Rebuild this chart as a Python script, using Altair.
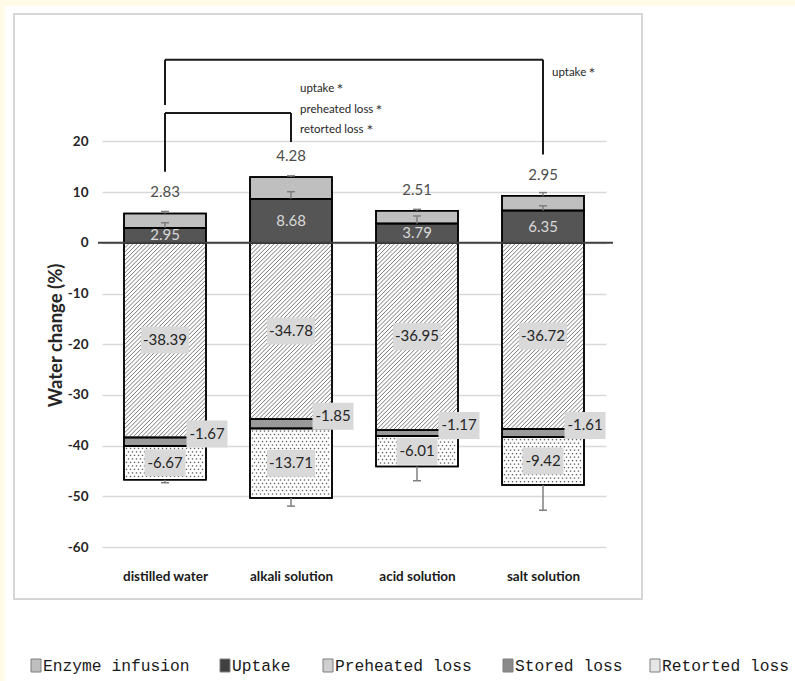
import altair as alt
import pandas as pd

# ---- values ---------------------------------------------------------------
categories = ["distilled water", "alkali solution", "acid solution", "salt solution"]
uptake = [2.95, 8.68, 3.79, 6.35]
enzyme_infusion = [2.83, 4.28, 2.51, 2.95]
preheated_loss = [-38.39, -34.78, -36.95, -36.72]
stored_loss = [-1.67, -1.85, -1.17, -1.61]
retorted_loss = [-6.67, -13.71, -6.01, -9.42]
uptake_err = [1.0, 1.4, 1.5, 0.95]
enzyme_err = [0.4, 0.25, 0.3, 0.6]
loss_err = [0.6, 1.6, 2.8, 5.0]
y_ticks = [-60, -50, -40, -30, -20, -10, 0, 10, 20]
series_names = ["Enzyme infusion", "Uptake", "Preheated loss", "Stored loss", "Retorted loss"]

# significance brackets: (from bar, to bar, level, left leg end, right leg end)
brackets = [(0, 3, 36.1, 27.2, 17.4), (0, 1, 25.6, 14.0, 19.9)]
bracket_notes = [
    (3, 33.5, "uptake\uff0a"),
    (1, 30.3, "uptake\uff0a"),
    (1, 26.2, "preheated loss\uff0a"),
    (1, 22.3, "retorted loss\uff0a"),
]

# ---- geometry --------------------------------------------------------------
W, H = 504, 507
PAD_L, PAD_T = 102, 40
X_DOMAIN = [-0.5, 3.5]
Y_DOMAIN = [-60, 40]
PX_X = W / (X_DOMAIN[1] - X_DOMAIN[0])
PX_Y = H / (Y_DOMAIN[1] - Y_DOMAIN[0])
BAR_PX = 82
HALF = BAR_PX / 2 / PX_X
CAP = 4 / PX_X

FONT = "Lato"
fills = {
    "Enzyme infusion": "#bfbfbf",
    "Uptake": "#555555",
    "Preheated loss": "#ffffff",
    "Stored loss": "#9a9a9a",
    "Retorted loss": "#ffffff",
}

x_labels = "[" + ",".join(f"'{c}'" for c in categories) + "][datum.value]"
X_AXIS = alt.Axis(
    values=[0, 1, 2, 3], labelExpr=x_labels, title=None, grid=False, domain=False,
    ticks=False, labelPadding=22, labelFont=FONT, labelFontSize=13.5,
    labelFontWeight="bold", labelColor="#1a1a1a",
)
Y_AXIS = alt.Axis(
    values=y_ticks, labelExpr="datum.value + ''", title="Water change (%)", grid=True,
    gridColor="#d9d9d9", gridWidth=1.5, domain=False, ticks=False, labelPadding=14,
    labelFont=FONT, labelFontSize=13.5, labelFontWeight="bold", labelColor="#262626",
    titleFont=FONT, titleFontSize=18.5, titleFontWeight="bold", titleColor="#262626",
    titleAngle=-90, titleX=-47, titleY=295, titleAlign="center", titleBaseline="middle",
)


def X(field="x"):
    return alt.X(f"{field}:Q", scale=alt.Scale(domain=X_DOMAIN, nice=False, zero=False), axis=X_AXIS)


def Y(field="y"):
    return alt.Y(f"{field}:Q", scale=alt.Scale(domain=Y_DOMAIN, nice=False, zero=False), axis=Y_AXIS)


# ---- stacked segments -------------------------------------------------------
seg_rows = []
for i in range(len(categories)):
    u, e = uptake[i], enzyme_infusion[i]
    p, s, r = preheated_loss[i], stored_loss[i], retorted_loss[i]
    for name, a, b in [
        ("Uptake", 0, u),
        ("Enzyme infusion", u, u + e),
        ("Preheated loss", 0, p),
        ("Stored loss", p, p + s),
        ("Retorted loss", p + s, p + s + r),
    ]:
        seg_rows.append(dict(i=i, x=i - HALF, x2=i + HALF, y=a, y2=b, series=name, fill=fills[name]))
seg = pd.DataFrame(seg_rows)

bars = alt.Chart(seg).mark_rect(stroke="black", strokeWidth=1.5).encode(
    x=X(), x2="x2:Q", y=Y(), y2="y2:Q", fill=alt.Fill("fill:N", scale=None)
)

# diagonal hatching for the preheated-loss segments
hatch_rows = []
step = 4.2
for i, p in enumerate(preheated_loss):
    xl, yb = i - HALF, p
    wp, hp = BAR_PX, -p * PX_Y
    c = -wp + step / 2
    while c < hp:
        xa, xb = max(0.0, -c), min(wp, hp - c)
        if xb > xa:
            hatch_rows.append(dict(x=xl + xa / PX_X, y=yb + (xa + c) / PX_Y,
                                   x2=xl + xb / PX_X, y2=yb + (xb + c) / PX_Y))
        c += step
hatch = alt.Chart(pd.DataFrame(hatch_rows)).mark_rule(color="#6a6a6a", strokeWidth=0.9).encode(
    x=X(), y=Y(), x2="x2:Q", y2="y2:Q"
)

# stipple for the retorted-loss segments
dot_rows = []
for i in range(len(categories)):
    top = preheated_loss[i] + stored_loss[i]
    hp = -retorted_loss[i] * PX_Y
    row = 0
    yy = 2.5
    while yy < hp - 2:
        xx = 2.5 + (2 if row % 2 else 0)
        while xx < BAR_PX - 2:
            dot_rows.append(dict(x=i - HALF + xx / PX_X, y=top - yy / PX_Y))
            xx += 4
        yy += 3.5
        row += 1
dots = alt.Chart(pd.DataFrame(dot_rows)).mark_square(size=1.8, color="#4d4d4d", opacity=0.9).encode(
    x=X(), y=Y()
)

outline = alt.Chart(seg).mark_rect(fillOpacity=0, stroke="black", strokeWidth=1.5).encode(
    x=X(), x2="x2:Q", y=Y(), y2="y2:Q"
)

# ---- error bars ---------------------------------------------------------------
err_rows = []
for i in range(len(categories)):
    u, e = uptake[i], enzyme_infusion[i]
    neg = preheated_loss[i] + stored_loss[i] + retorted_loss[i]
    for base, end in [(u, u + uptake_err[i]), (u + e, u + e + enzyme_err[i]), (neg, neg - loss_err[i])]:
        err_rows.append(dict(x=i, x2=i, y=base, y2=end))
        err_rows.append(dict(x=i - CAP, x2=i + CAP, y=end, y2=end))
errs = alt.Chart(pd.DataFrame(err_rows)).mark_rule(color="#7f7f7f", strokeWidth=1.5).encode(
    x=X(), x2="x2:Q", y=Y(), y2="y2:Q"
)

zero_line = alt.Chart(pd.DataFrame({"y": [0]})).mark_rule(color="#404040", strokeWidth=2).encode(
    x=alt.value(-4), x2=alt.value(W + 7), y=Y()
)

# ---- value labels --------------------------------------------------------------
lab = pd.DataFrame(dict(
    x=list(range(len(categories))),
    up_mid=[u / 2 for u in uptake],
    up_txt=[f"{u:.2f}" for u in uptake],
    top=[u + e for u, e in zip(uptake, enzyme_infusion)],
    en_txt=[f"{e:.2f}" for e in enzyme_infusion],
))
uptake_text = alt.Chart(lab).mark_text(font=FONT, fontSize=15, color="#d9d9d9", baseline="middle").encode(
    x=X(), y=Y("up_mid"), text="up_txt:N"
)
enzyme_text = alt.Chart(lab).mark_text(font=FONT, fontSize=15, color="#4d4d4d", baseline="middle", dy=-21).encode(
    x=X(), y=Y("top"), text="en_txt:N"
)

box_rows = []
for i in range(len(categories)):
    p, s, r = preheated_loss[i], stored_loss[i], retorted_loss[i]
    for cx, cy, v in [
        (i, p / 2, p),
        (i + 42 / PX_X, p + s / 2 + 1.5, s),
        (i, p + s + r / 2, r),
    ]:
        t = f"{v:.2f}"
        hw = (len(t) * 7 + 6) / 2 / PX_X
        hh = 13.5 / PX_Y
        box_rows.append(dict(x=cx, y=cy, x1=cx - hw, x2=cx + hw, y1=cy - hh, y2=cy + hh, t=t))
boxes = pd.DataFrame(box_rows)
box_rect = alt.Chart(boxes).mark_rect(fill="#d9d9d9").encode(
    x=X("x1"), x2="x2:Q", y=Y("y1"), y2="y2:Q"
)
box_text = alt.Chart(boxes).mark_text(font=FONT, fontSize=15, color="#262626", baseline="middle").encode(
    x=X(), y=Y(), text="t:N"
)

# ---- significance brackets --------------------------------------------------------
br_rows = []
for a, b, lvl, la, lb in brackets:
    br_rows.append(dict(x=a, x2=b, y=lvl, y2=lvl))
    br_rows.append(dict(x=a, x2=a, y=lvl, y2=la))
    br_rows.append(dict(x=b, x2=b, y=lvl, y2=lb))
bracket_lines = alt.Chart(pd.DataFrame(br_rows)).mark_rule(color="#1a1a1a", strokeWidth=2).encode(
    x=X(), x2="x2:Q", y=Y(), y2="y2:Q"
)
notes = pd.DataFrame([dict(x=b + 9 / PX_X, y=y, t=t) for b, y, t in bracket_notes])
note_text = alt.Chart(notes).mark_text(font=FONT, fontSize=11.5, color="#262626", align="left", baseline="middle").encode(
    x=X(), y=Y(), text="t:N"
)

# ---- page strips and panel border (no fill, so axes stay visible) ------------------
one = pd.DataFrame({"a": [0]})
YELLOW = "#fffbe6"
strip_top = alt.Chart(one).mark_rect(fill=YELLOW).encode(
    x=alt.value(-PAD_L), x2=alt.value(795 - PAD_L), y=alt.value(-PAD_T), y2=alt.value(6 - PAD_T)
)
strip_left = alt.Chart(one).mark_rect(fill=YELLOW).encode(
    x=alt.value(-PAD_L), x2=alt.value(5 - PAD_L), y=alt.value(-PAD_T), y2=alt.value(681 - PAD_T)
)
panel = alt.Chart(one).mark_rect(fillOpacity=0, stroke="#d6d6d6", strokeWidth=2).encode(
    x=alt.value(14 - PAD_L), x2=alt.value(642 - PAD_L), y=alt.value(14 - PAD_T), y2=alt.value(599 - PAD_T)
)

# ---- legend row ---------------------------------------------------------------------
legend_px = [31, 220, 323, 503, 650]
icon_fill = {
    "Enzyme infusion": "#bfbfbf",
    "Uptake": "#404040",
    "Preheated loss": "#cfcfcf",
    "Stored loss": "#8a8a8a",
    "Retorted loss": "#e6e6e6",
}
leg = pd.DataFrame(dict(
    name=series_names,
    fill=[icon_fill[n] for n in series_names],
    x1=[p - PAD_L for p in legend_px],
    x2=[p + 10 - PAD_L for p in legend_px],
    tx=[p + 12 - PAD_L for p in legend_px],
    y1=[666 - 7 - PAD_T] * 5,
    y2=[666 + 6 - PAD_T] * 5,
    ty=[666 - PAD_T] * 5,
))
leg_icons = alt.Chart(leg).mark_rect(stroke="#7f7f7f", strokeWidth=1).encode(
    x=alt.X("x1:Q", scale=None), x2="x2:Q", y=alt.Y("y1:Q", scale=None), y2="y2:Q",
    fill=alt.Fill("fill:N", scale=None),
)
leg_text = alt.Chart(leg).mark_text(font="Liberation Mono", fontSize=16.3, color="#1a1a1a", align="left", baseline="middle").encode(
    x=alt.X("tx:Q", scale=None), y=alt.Y("ty:Q", scale=None), text="name:N"
)

chart = alt.layer(
    strip_top, strip_left, panel, bars, hatch, dots, outline, errs, zero_line,
    uptake_text, enzyme_text, box_rect, box_text, bracket_lines, note_text,
    leg_icons, leg_text,
).properties(
    width=W, height=H,
    autosize=alt.AutoSizeParams(type="none"),
    padding={"left": PAD_L, "top": PAD_T, "right": 795 - PAD_L - W, "bottom": 681 - PAD_T - H},
    background="white",
).configure_view(stroke=None)

chart.save("out.html", embed_options={"renderer": "svg", "actions": False})
